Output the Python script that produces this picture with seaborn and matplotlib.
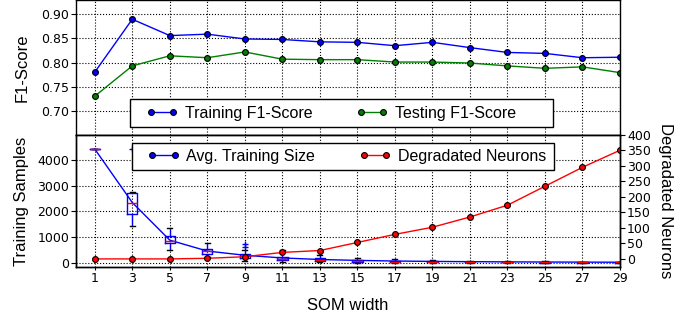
import numpy as np
import pandas as pd
import matplotlib
matplotlib.use("Agg")
import matplotlib.pyplot as plt
import seaborn as sns
from matplotlib.lines import Line2D
from matplotlib.patches import Rectangle

# ---- data ----
som_width = [1, 3, 5, 7, 9, 11, 13, 15, 17, 19, 21, 23, 25, 27, 29]
train_f1 = [0.780, 0.890, 0.856, 0.859, 0.849, 0.848, 0.843, 0.842, 0.835, 0.842,
            0.831, 0.821, 0.819, 0.810, 0.811]
test_f1 = [0.730, 0.793, 0.814, 0.810, 0.822, 0.807, 0.806, 0.806, 0.801, 0.801,
           0.799, 0.793, 0.788, 0.791, 0.779]
avg_train_size = [4440, 2350, 880, 455, 290, 185, 125, 90, 65, 50, 40, 32, 26, 22, 18]
degraded = [0, 0, 0, 2, 7, 21, 27, 53, 79, 102, 135, 173, 234, 295, 350]

box_q1 = [4440, 1886, 755, 339, 183, 100, 60, 30, 20, 15, 10, 8, 6, 5, 4]
box_med = [4440, 2337, 845, 444, 261, 160, 110, 70, 45, 35, 25, 20, 15, 12, 10]
box_q3 = [4440, 2727, 1040, 546, 339, 230, 170, 110, 80, 60, 45, 35, 28, 22, 18]
box_lo = [4440, 1441, 483, 234, 66, 20, 10, 5, 2, 1, 1, 1, 1, 1, 1]
box_hi = [4440, 2750, 1364, 780, 495, 500, 300, 200, 150, 110, 80, 60, 50, 40, 30]
box_fliers = [[], [4440], [], [], [600, 728], [], [], [], [], [], [], [], [], [], []]

x_ticks = som_width

# ---- style ----
plt.rcParams['font.family'] = ['Liberation Sans', 'DejaVu Sans']
plt.rcParams['xtick.direction'] = 'out'
plt.rcParams['ytick.direction'] = 'out'

W, H = 699, 322
fig = plt.figure(figsize=(W / 100, H / 100), dpi=100)
L, R = 76 / W, 620 / W
ax1 = fig.add_axes([L, (322 - 134.7) / H, R - L, 134.7 / H])
ax2 = fig.add_axes([L, (322 - 267.3) / H, R - L, (267.3 - 134.7) / H])

tick_font = dict(family='DejaVu Sans', size=9)
mk = dict(marker='o', markersize=4.2, markeredgecolor='black', markeredgewidth=0.8)
BLUE, GREEN, RED = (0, 0, 1), (0, 0.5, 0), (1, 0, 0)


def framed_legend(ax, handles, labels, anchor, rect):
    frame = Rectangle((rect[0], rect[1]), rect[2], rect[3], transform=ax.transAxes,
                      facecolor='white', edgecolor='black', lw=1.0, zorder=4.5,
                      clip_on=False)
    ax.add_patch(frame)
    leg = ax.legend(handles, labels, loc='center left', bbox_to_anchor=anchor,
                    ncol=2, fontsize=11.5, frameon=False, borderpad=0,
                    borderaxespad=0, handlelength=2.0, handletextpad=0.44,
                    columnspacing=2.72, numpoints=2)
    leg.set_zorder(5)
    return leg


# ---- top panel ----
df_top = pd.DataFrame({'w': som_width, 'train': train_f1, 'test': test_f1})
sns.lineplot(data=df_top, x='w', y='train', ax=ax1, color=BLUE, lw=1,
             markerfacecolor=BLUE, legend=False, **mk)
sns.lineplot(data=df_top, x='w', y='test', ax=ax1, color=GREEN, lw=1,
             markerfacecolor=GREEN, legend=False, **mk)
ax1.set_xlim(0, 29)
ax1.set_ylim(0.65, 0.93)
ax1.set_yticks([0.70, 0.75, 0.80, 0.85, 0.90])
ax1.set_yticklabels(['0.70', '0.75', '0.80', '0.85', '0.90'], **tick_font)
ax1.set_xticks(x_ticks)
ax1.set_xticklabels([])
ax1.set_xlabel('')
ax1.set_ylabel('F1-Score', fontsize=12, labelpad=8)
ax1.grid(True, color='black', linestyle=':', lw=0.8)
ax1.tick_params(axis='y', length=3.5, pad=1.5, width=0.8)
ax1.tick_params(axis='x', length=3, width=0.8)
h_top = [Line2D([], [], color=BLUE, lw=1, markerfacecolor=BLUE, **mk),
         Line2D([], [], color=GREEN, lw=1, markerfacecolor=GREEN, **mk)]
framed_legend(ax1, h_top, ['Training F1-Score', 'Testing F1-Score'],
              (0.1287, 0.161), (0.0993, 0.057, 0.7776, 0.208))

# ---- bottom panel ----
stats = []
for i in range(len(som_width)):
    stats.append(dict(q1=box_q1[i], med=box_med[i], q3=box_q3[i],
                      whislo=box_lo[i], whishi=box_hi[i], fliers=box_fliers[i]))
ax2.bxp(stats, positions=som_width, widths=0.55, manage_ticks=False,
        boxprops=dict(color=BLUE, lw=1),
        whiskerprops=dict(color=BLUE, lw=1),
        capprops=dict(color='black', lw=1),
        medianprops=dict(color=RED, lw=1),
        flierprops=dict(marker='+', markeredgecolor=BLUE, markersize=5, lw=0))

df_bot = pd.DataFrame({'w': som_width, 'avg': avg_train_size, 'deg': degraded})
sns.lineplot(data=df_bot, x='w', y='avg', ax=ax2, color=BLUE, lw=1, legend=False)
ax2.set_xlim(0, 29)
ax2.set_ylim(-180, 5000)
ax2.set_yticks([0, 1000, 2000, 3000, 4000])
ax2.set_yticklabels(['0', '1000', '2000', '3000', '4000'], **tick_font)
ax2.set_xticks(x_ticks)
ax2.set_xticklabels([str(v) for v in x_ticks], **tick_font)
ax2.set_xlabel('SOM width', fontsize=12, labelpad=9)
ax2.set_ylabel('Training Samples', fontsize=12, labelpad=6)
ax2.grid(True, color='black', linestyle=':', lw=0.8)
ax2.tick_params(axis='y', length=3.5, pad=1.5, width=0.8)
ax2.tick_params(axis='x', length=2, pad=1.5, width=0.8)

ax3 = ax2.twinx()
sns.lineplot(data=df_bot, x='w', y='deg', ax=ax3, color=RED, lw=1,
             markerfacecolor=RED, legend=False, **mk)
ax3.set_ylim(-27, 400)
ax3.set_yticks(list(range(0, 401, 50)))
ax3.set_yticklabels([str(v) for v in range(0, 401, 50)], **tick_font)
ax3.set_ylabel('Degradated Neurons', fontsize=12, rotation=270, labelpad=16)
ax3.tick_params(length=3.5, pad=1.5, width=0.8)
ax3.set_xlim(0, 29)

h_bot = [Line2D([], [], color=BLUE, lw=1, markerfacecolor=BLUE, **mk),
         Line2D([], [], color=RED, lw=1, markerfacecolor=RED, **mk)]
framed_legend(ax3, h_bot, ['Avg. Training Size', 'Degradated Neurons'],
              (0.1314, 0.8356), (0.103, 0.734, 0.776, 0.204))

for a in (ax1, ax2, ax3):
    for s in a.spines.values():
        s.set_linewidth(1.0)

fig.savefig('out.png', dpi=100)
